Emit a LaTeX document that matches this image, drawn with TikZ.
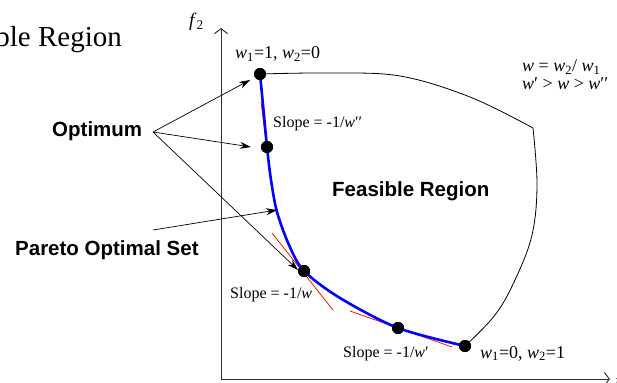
\documentclass[tikz,border=0pt]{standalone}
\usepackage{fontspec}
\setmainfont{Liberation Serif}
\newfontfamily\bsans{Liberation Sans}
\usetikzlibrary{arrows.meta}
\newcommand{\wv}{\textit{w}}
\begin{document}
\begin{tikzpicture}[x=1pt,y=-1pt,
  dot/.style={circle,fill=black,inner sep=0pt,minimum size=12pt},
  lbl/.style={font=\bsans\bfseries\fontsize{20.5}{20.5}\selectfont,inner sep=0pt},
  slope/.style={inner sep=0pt,anchor=base west,font=\fontsize{16}{16}\selectfont},
  wlab/.style={inner sep=0pt,anchor=base west,font=\fontsize{18}{18}\selectfont},
  ptr/.style={-{Stealth[length=11pt,width=7pt]},line width=0.7pt},
  axis/.style={line width=1pt,black!80,-{Straight Barb[length=5pt,width=13pt]}},
  tanline/.style={red!85!orange,line width=0.8pt},
  pareto/.style={blue,line width=2.6pt},
  bound/.style={black,line width=0.8pt}]
\useasboundingbox (0,0) rectangle (617,382);
\clip (0,0) rectangle (617,382);

% title (cut off at the left edge)
\node[anchor=base east,inner sep=0pt,font=\fontsize{29}{29}\selectfont] (title) at (122,47) {Feasible Region};

% axes
\coordinate (O) at (221,379);
\coordinate (ytop) at (221,28);
\coordinate (xend) at (610,379);
\draw[axis] (O) -- (ytop);
\draw[axis] (O) -- (xend);
\node[anchor=base west,inner sep=0pt,font=\fontsize{19}{19}\selectfont] (f2) at (189,27) {\textit{f}\textsubscript{2}};
\node[anchor=base west,inner sep=0pt,font=\fontsize{19}{19}\selectfont] (f1) at (615,387) {\textit{f}\textsubscript{1}};

% points
\node[dot] (p1) at (260,74) {};
\node[dot] (p2) at (267,147) {};
\node[dot] (p3) at (304,271) {};
\node[dot] (p4) at (398,328) {};
\node[dot] (p5) at (465,346) {};

% feasible region boundary
\draw[bound] plot[smooth,tension=0.6] coordinates {(p1) (330,73) (400,76) (470,97) (533,128)};
\draw[bound] plot[smooth,tension=0.6] coordinates {(533,128) (537,185) (532,235) (515,280) (495,315) (p5)};

% tangent lines
\coordinate (a1) at (261,102); \coordinate (a2) at (272,190);
\coordinate (b1) at (272,233); \coordinate (b2) at (333,310);
\coordinate (c1) at (350,311); \coordinate (c2) at (452,347);
\draw[tanline] (a1) -- (a2);
\draw[tanline] (b1) -- (b2);
\draw[tanline] (c1) -- (c2);

% Pareto optimal set
\draw[pareto] plot[smooth,tension=0.5] coordinates {(p1) (263.5,110) (p2) (271,180) (277,212) (289,245) (p3) (340,298) (p4) (p5)};
\foreach \p in {p1,p2,p3,p4,p5} \fill (\p) circle (6pt);

% labels
\node[wlab] (l1) at (235,59) {\wv\textsubscript{1}=1, \wv\textsubscript{2}=0};
\node[wlab] (l5) at (480,358) {\wv\textsubscript{1}=0, \wv\textsubscript{2}=1};
\node[slope] (s2) at (273,128) {Slope = -1/\wv′′};
\node[slope] (s3) at (230,298) {Slope = -1/\wv};
\node[slope] (s4) at (343,357) {Slope = -1/\wv′};
\node[wlab] (r1) at (522,72) {\wv\ = \wv\textsubscript{2}/ \wv\textsubscript{1}};
\node[wlab] (r2) at (522,90) {\wv′ > \wv\ > \wv′′};

\node[lbl,anchor=base west] (opt) at (52,137) {Optimum};
\node[lbl,anchor=base west] (pos) at (15,255) {Pareto Optimal Set};
\node[lbl,anchor=base west] (fr) at (332,196) {Feasible Region};

% pointers
\coordinate (o) at (153,132);
\coordinate (t1) at (250,80);
\coordinate (t2) at (251,147);
\coordinate (t3) at (298,270);
\coordinate (q) at (153,230);
\coordinate (t4) at (277,210);
\draw[ptr] (o) -- (t1);
\draw[ptr] (o) -- (t2);
\draw[ptr] (o) -- (t3);
\draw[ptr] (q) -- (t4);
\end{tikzpicture}
\end{document}
